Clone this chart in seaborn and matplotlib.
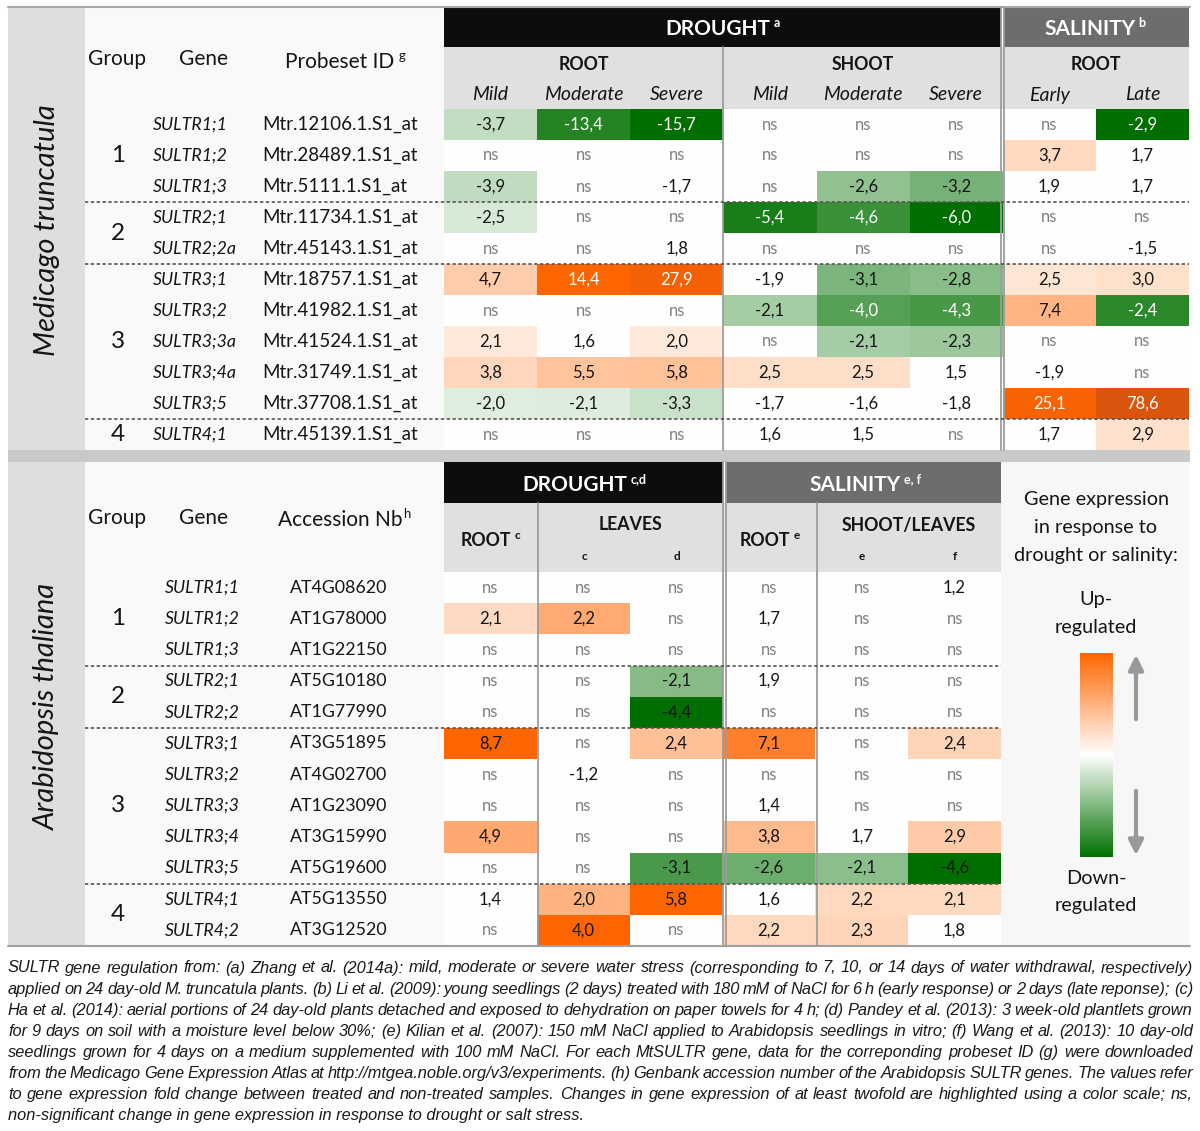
import numpy as np
import pandas as pd
import matplotlib
matplotlib.use("Agg")
import matplotlib.pyplot as plt
import seaborn as sns
from matplotlib.colors import LinearSegmentedColormap
from matplotlib.patches import Rectangle

sns.set_theme(style="white")
plt.rcParams['font.family'] = ['Lato', 'DejaVu Sans']

NS = np.nan  # non-significant

# ---- Medicago truncatula ----
med_groups = ['1', '2', '3', '4']
med_group_rows = [3, 2, 5, 1]
med_genes = ['SULTR1;1', 'SULTR1;2', 'SULTR1;3', 'SULTR2;1', 'SULTR2;2a', 'SULTR3;1',
             'SULTR3;2', 'SULTR3;3a', 'SULTR3;4a', 'SULTR3;5', 'SULTR4;1']
med_probes = ['Mtr.12106.1.S1_at', 'Mtr.28489.1.S1_at', 'Mtr.5111.1.S1_at', 'Mtr.11734.1.S1_at',
              'Mtr.45143.1.S1_at', 'Mtr.18757.1.S1_at', 'Mtr.41982.1.S1_at', 'Mtr.41524.1.S1_at',
              'Mtr.31749.1.S1_at', 'Mtr.37708.1.S1_at', 'Mtr.45139.1.S1_at']
med_cols = ['Mild', 'Moderate', 'Severe', 'Mild', 'Moderate', 'Severe', 'Early', 'Late']
med_values = [
    [-3.7, -13.4, -15.7, NS, NS, NS, NS, -2.9],
    [NS, NS, NS, NS, NS, NS, 3.7, 1.7],
    [-3.9, NS, -1.7, NS, -2.6, -3.2, 1.9, 1.7],
    [-2.5, NS, NS, -5.4, -4.6, -6.0, NS, NS],
    [NS, NS, 1.8, NS, NS, NS, NS, -1.5],
    [4.7, 14.4, 27.9, -1.9, -3.1, -2.8, 2.5, 3.0],
    [NS, NS, NS, -2.1, -4.0, -4.3, 7.4, -2.4],
    [2.1, 1.6, 2.0, NS, -2.1, -2.3, NS, NS],
    [3.8, 5.5, 5.8, 2.5, 2.5, 1.5, -1.9, NS],
    [-2.0, -2.1, -3.3, -1.7, -1.6, -1.8, 25.1, 78.6],
    [NS, NS, NS, 1.6, 1.5, NS, 1.7, 2.9],
]
# colour-scale limits per column (down, up)
med_down_ref = [15.7, 15.7, 15.7, 6.0, 6.0, 6.0, 2.9, 2.9]
med_up_ref = [14.4, 14.4, 14.4, 12.0, 12.0, 12.0, 15.0, 15.0]

# ---- Arabidopsis thaliana ----
ara_groups = ['1', '2', '3', '4']
ara_group_rows = [3, 2, 5, 2]
ara_genes = ['SULTR1;1', 'SULTR1;2', 'SULTR1;3', 'SULTR2;1', 'SULTR2;2', 'SULTR3;1',
             'SULTR3;2', 'SULTR3;3', 'SULTR3;4', 'SULTR3;5', 'SULTR4;1', 'SULTR4;2']
ara_acc = ['AT4G08620', 'AT1G78000', 'AT1G22150', 'AT5G10180', 'AT1G77990', 'AT3G51895',
           'AT4G02700', 'AT1G23090', 'AT3G15990', 'AT5G19600', 'AT5G13550', 'AT3G12520']
ara_cols = ['root_c', 'leaves_c', 'leaves_d', 'root_e', 'shoot_e', 'shoot_f']
ara_values = [
    [NS, NS, NS, NS, NS, 1.2],
    [2.1, 2.2, NS, 1.7, NS, NS],
    [NS, NS, NS, NS, NS, NS],
    [NS, NS, -2.1, 1.9, NS, NS],
    [NS, NS, -4.4, NS, NS, NS],
    [8.7, NS, 2.4, 7.1, NS, 2.4],
    [NS, -1.2, NS, NS, NS, NS],
    [NS, NS, NS, 1.4, NS, NS],
    [4.9, NS, NS, 3.8, 1.7, 2.9],
    [NS, NS, -3.1, -2.6, -2.1, -4.6],
    [1.4, 2.0, 5.8, 1.6, 2.2, 2.1],
    [NS, 4.0, NS, 2.2, 2.3, 1.8],
]
ara_down_ref = [4.4, 4.4, 4.4, 4.6, 4.6, 4.6]
ara_up_ref = [8.7, 4.0, 5.8, 8.5, 8.5, 8.5]

caption_lines = [
    "SULTR gene regulation from: (a) Zhang et al. (2014a): mild, moderate or severe water stress (corresponding to 7, 10, or 14 days of water withdrawal, respectively)",
    "applied on 24 day-old M. truncatula plants. (b) Li et al. (2009): young seedlings (2 days) treated with 180 mM of NaCl for 6 h (early response) or 2 days (late reponse); (c)",
    "Ha et al. (2014): aerial portions of 24 day-old plants detached and exposed to dehydration on paper towels for 4 h; (d) Pandey et al. (2013): 3 week-old plantlets grown",
    "for 9 days on soil with a moisture level below 30%; (e) Kilian et al. (2007): 150 mM NaCl applied to Arabidopsis seedlings in vitro; (f) Wang et al. (2013): 10 day-old",
    "seedlings grown for 4 days on a medium supplemented with 100 mM NaCl. For each MtSULTR gene, data for the correponding probeset ID (g) were downloaded",
    "from the Medicago Gene Expression Atlas at http://mtgea.noble.org/v3/experiments. (h) Genbank accession number of the Arabidopsis SULTR genes. The values refer",
    "to gene expression fold change between treated and non-treated samples. Changes in gene expression of at least twofold are highlighted using a color scale; ns,",
    "non-significant change in gene expression in response to drought or salt stress.",
]

W, H = 1200, 1131
fig = plt.figure(figsize=(W / 100, H / 100), dpi=100)
renderer = fig.canvas.get_renderer()


def px_axes(x0, y0, x1, y1):
    a = fig.add_axes([x0 / W, 1 - y1 / H, (x1 - x0) / W, (y1 - y0) / H])
    return a


def shade(vals, down_ref, up_ref):
    # 0..0.9 up to the column reference, then a little darker for values far beyond it
    v = np.array(vals, dtype=float)
    ref = np.where(v < 0, np.array(down_ref)[None, :], np.array(up_ref)[None, :])
    r = np.abs(v) / ref
    t = 0.9 * np.minimum(r, 1) + 0.1 * np.clip((r - 1) / 4, 0, 1)
    t = np.sign(v) * t
    t[np.isnan(v) | (np.abs(v) < 2)] = 0
    return t


def label(v):
    if np.isnan(v):
        return 'ns'
    return f"{v:.1f}".replace('.', ',')


cmap = LinearSegmentedColormap.from_list(
    'updown', [(0, '#005c00'), (0.05, '#007000'), (0.5, '#ffffff'), (0.95, '#ff6600'), (1, '#d9550e')])

# background shapes
bg = px_axes(0, 0, W, H)
bg.set_xlim(0, W)
bg.set_ylim(H, 0)
bg.axis('off')
for (x, y, w, h, c) in [
    (85, 7, 359, 443, '#f9f9f9'), (85, 462, 359, 484, '#f9f9f9'), (1001, 462, 189, 484, '#f7f7f7'),
    (8, 7, 77, 443, '#dedede'), (8, 462, 77, 484, '#dedede'), (8, 450, 1182, 12, '#c9c9c9'),
    (444, 7, 557, 40, '#0d0d0d'), (1004, 7, 185, 40, '#6d6d6d'), (444, 47, 745, 62, '#e0e0e0'),
    (444, 462, 279, 41, '#0d0d0d'), (726, 462, 275, 41, '#6d6d6d'), (444, 503, 557, 69, '#e0e0e0'),
]:
    bg.add_patch(Rectangle((x, y), w, h, facecolor=c, edgecolor='none'))


def draw_block(box, values, cols, down_ref, up_ref, white_text):
    t = shade(values, down_ref, up_ref)
    df = pd.DataFrame(t, columns=cols)
    labels = np.array([[label(v) for v in row] for row in np.array(values, dtype=float)])
    a = px_axes(*box)
    sns.heatmap(df, ax=a, cmap=cmap, vmin=-1, vmax=1, cbar=False, annot=labels, fmt='',
                linewidths=0, xticklabels=False, yticklabels=False,
                annot_kws=dict(fontsize=12, family=['Lato', 'DejaVu Sans']))
    vals = np.array(values, dtype=float).ravel()
    for txt, v, s in zip(a.texts, vals, t.ravel()):
        if np.isnan(v):
            txt.set_color('#808080')
        elif white_text and abs(s) >= 0.54:
            txt.set_color('white')
        else:
            txt.set_color('#151515')
    return a


draw_block((444, 109, 1189, 450), med_values, med_cols, med_down_ref, med_up_ref, True)
draw_block((444, 572, 1001, 946), ara_values, ara_cols, ara_down_ref, ara_up_ref, False)

# legend colour bar
cb = px_axes(1080, 653, 1113, 857)
sns.heatmap(pd.DataFrame(np.linspace(0.9, -0.9, 200)[:, None]), ax=cb, cmap=cmap, vmin=-1, vmax=1,
            cbar=False, xticklabels=False, yticklabels=False)

# overlay for lines and text
ov = px_axes(0, 0, W, H)
ov.set_xlim(0, W)
ov.set_ylim(H, 0)
ov.axis('off')
ov.patch.set_alpha(0)

ov.plot([8, 1190], [7, 7], color='#a8a8a8', lw=1.5)
ov.plot([8, 1190], [946, 946], color='#a0a0a0', lw=1.5)
for x, y0, y1 in [(723, 47, 450), (1001, 7, 450), (1004, 7, 450),
                  (538, 503, 946), (817, 503, 946), (723, 462, 946), (726, 462, 946)]:
    ov.plot([x, x], [y0, y1], color='#9c9c9c', lw=1.3)

row_h_top = (450 - 109) / len(med_genes)
row_h_bot = (946 - 572) / len(ara_genes)


def group_rows(y_start, row_h, spans, names, x_end):
    r = 0
    for i, (n, name) in enumerate(zip(spans, names)):
        yc = y_start + (r + n / 2) * row_h
        ov.text(118, yc, name, ha='center', va='center', fontsize=17.5, color='#151515')
        r += n
        if i < len(spans) - 1:
            yl = y_start + r * row_h
            ov.plot([85, x_end], [yl, yl], color='#555555', lw=1.2, ls=(0, (2, 1.5)))


group_rows(109, row_h_top, med_group_rows, med_groups, 1189)
group_rows(572, row_h_bot, ara_group_rows, ara_groups, 1001)

for i, (g, p) in enumerate(zip(med_genes, med_probes)):
    yc = 109 + (i + 0.5) * row_h_top
    ov.text(153, yc, g, ha='left', va='center', fontsize=12.8, style='italic', color='#151515')
    ov.text(262, yc, p, ha='left', va='center', fontsize=13.5, color='#151515')
for i, (g, p) in enumerate(zip(ara_genes, ara_acc)):
    yc = 572 + (i + 0.5) * row_h_bot
    ov.text(165, yc, g, ha='left', va='center', fontsize=12.8, style='italic', color='#151515')
    ov.text(290, yc, p, ha='left', va='center', fontsize=12.8, color='#151515')

ov.text(47, 230, 'Medicago truncatula', rotation=90, ha='center', va='center',
        fontsize=21, style='italic', color='#151515')
ov.text(47, 706, 'Arabidopsis thaliana', rotation=90, ha='center', va='center',
        fontsize=21, style='italic', color='#151515')


def with_sup(x, y, main, sup, size, sup_size, color, weight='normal', gap=3, lift=4):
    t = ov.text(x, y, main, ha='center', va='center', fontsize=size, color=color, fontweight=weight)
    bb = t.get_window_extent(renderer)
    xr, yt = ov.transData.inverted().transform((bb.x1, bb.y1))
    ov.text(xr + gap, yt + lift, sup, ha='left', va='center', fontsize=sup_size, color=color,
            fontweight=weight)


# header texts, top table
ov.text(117, 59, 'Group', ha='center', va='center', fontsize=15, color='#151515')
ov.text(203, 59, 'Gene', ha='center', va='center', fontsize=15, color='#151515')
with_sup(340, 62, 'Probeset ID', 'g', 15, 9.5, '#151515', gap=4)
with_sup(718, 29, 'DROUGHT', 'a', 15, 9, 'white', 'bold')
with_sup(1090, 29, 'SALINITY', 'b', 15, 9, 'white', 'bold')
for x, s in [(584, 'ROOT'), (863, 'SHOOT'), (1096, 'ROOT')]:
    ov.text(x, 64, s, ha='center', va='center', fontsize=12.8, fontweight='bold', color='#151515')
col_w_top = (1189 - 444) / len(med_cols)
for j, c in enumerate(med_cols):
    ov.text(444 + (j + 0.5) * col_w_top, 95, c, ha='center', va='center', fontsize=14,
            style='italic', color='#151515')

# header texts, bottom table
ov.text(117, 518, 'Group', ha='center', va='center', fontsize=15, color='#151515')
ov.text(203, 518, 'Gene', ha='center', va='center', fontsize=15, color='#151515')
with_sup(340, 520, 'Accession Nb', 'h', 15, 9.5, '#151515', gap=1)
with_sup(575, 485, 'DROUGHT', 'c,d', 15, 9, 'white', 'bold')
with_sup(855, 485, 'SALINITY', 'e, f', 15, 9, 'white', 'bold')
with_sup(486, 540, 'ROOT', 'c', 12.8, 8.5, '#151515', 'bold')
with_sup(765, 540, 'ROOT', 'e', 12.8, 8.5, '#151515', 'bold')
ov.text(630, 525, 'LEAVES', ha='center', va='center', fontsize=12.8, fontweight='bold', color='#151515')
ov.text(909, 525, 'SHOOT/LEAVES', ha='center', va='center', fontsize=12.8, fontweight='bold', color='#151515')
for x, s in [(584, 'c'), (677, 'd'), (862, 'e'), (955, 'f')]:
    ov.text(x, 557, s, ha='center', va='center', fontsize=8.5, fontweight='bold', color='#151515')

# legend texts
for y, s in [(500, 'Gene expression'), (528, 'in response to'), (555, 'drought or salinity:'),
             (600, 'Up-'), (628, 'regulated'), (878, 'Down-'), (905, 'regulated')]:
    ov.text(1096, y, s, ha='center', va='center', fontsize=14.3, color='#151515')
ov.annotate('', xy=(1136, 652), xytext=(1136, 722),
            arrowprops=dict(arrowstyle='-|>', color='#999999', lw=3, mutation_scale=22))
ov.annotate('', xy=(1136, 858), xytext=(1136, 788),
            arrowprops=dict(arrowstyle='-|>', color='#999999', lw=3, mutation_scale=22))

# caption, justified
cap_kw = dict(fontsize=11.8, style='italic', color='#1a1a1a', family=['Liberation Sans', 'DejaVu Sans'])
for k, line in enumerate(caption_lines):
    y = 968 + k * 21.1
    if k == len(caption_lines) - 1:
        ov.text(8, y, line, ha='left', va='center', **cap_kw)
        continue
    words = line.split(' ')
    texts = [ov.text(0, y, w, ha='left', va='center', **cap_kw) for w in words]
    widths = [t.get_window_extent(renderer).width for t in texts]
    gap = (1193 - 8 - sum(widths)) / (len(words) - 1)
    x = 8
    for t, w in zip(texts, widths):
        t.set_x(x)
        x += w + gap

fig.savefig('out.png', dpi=100)
